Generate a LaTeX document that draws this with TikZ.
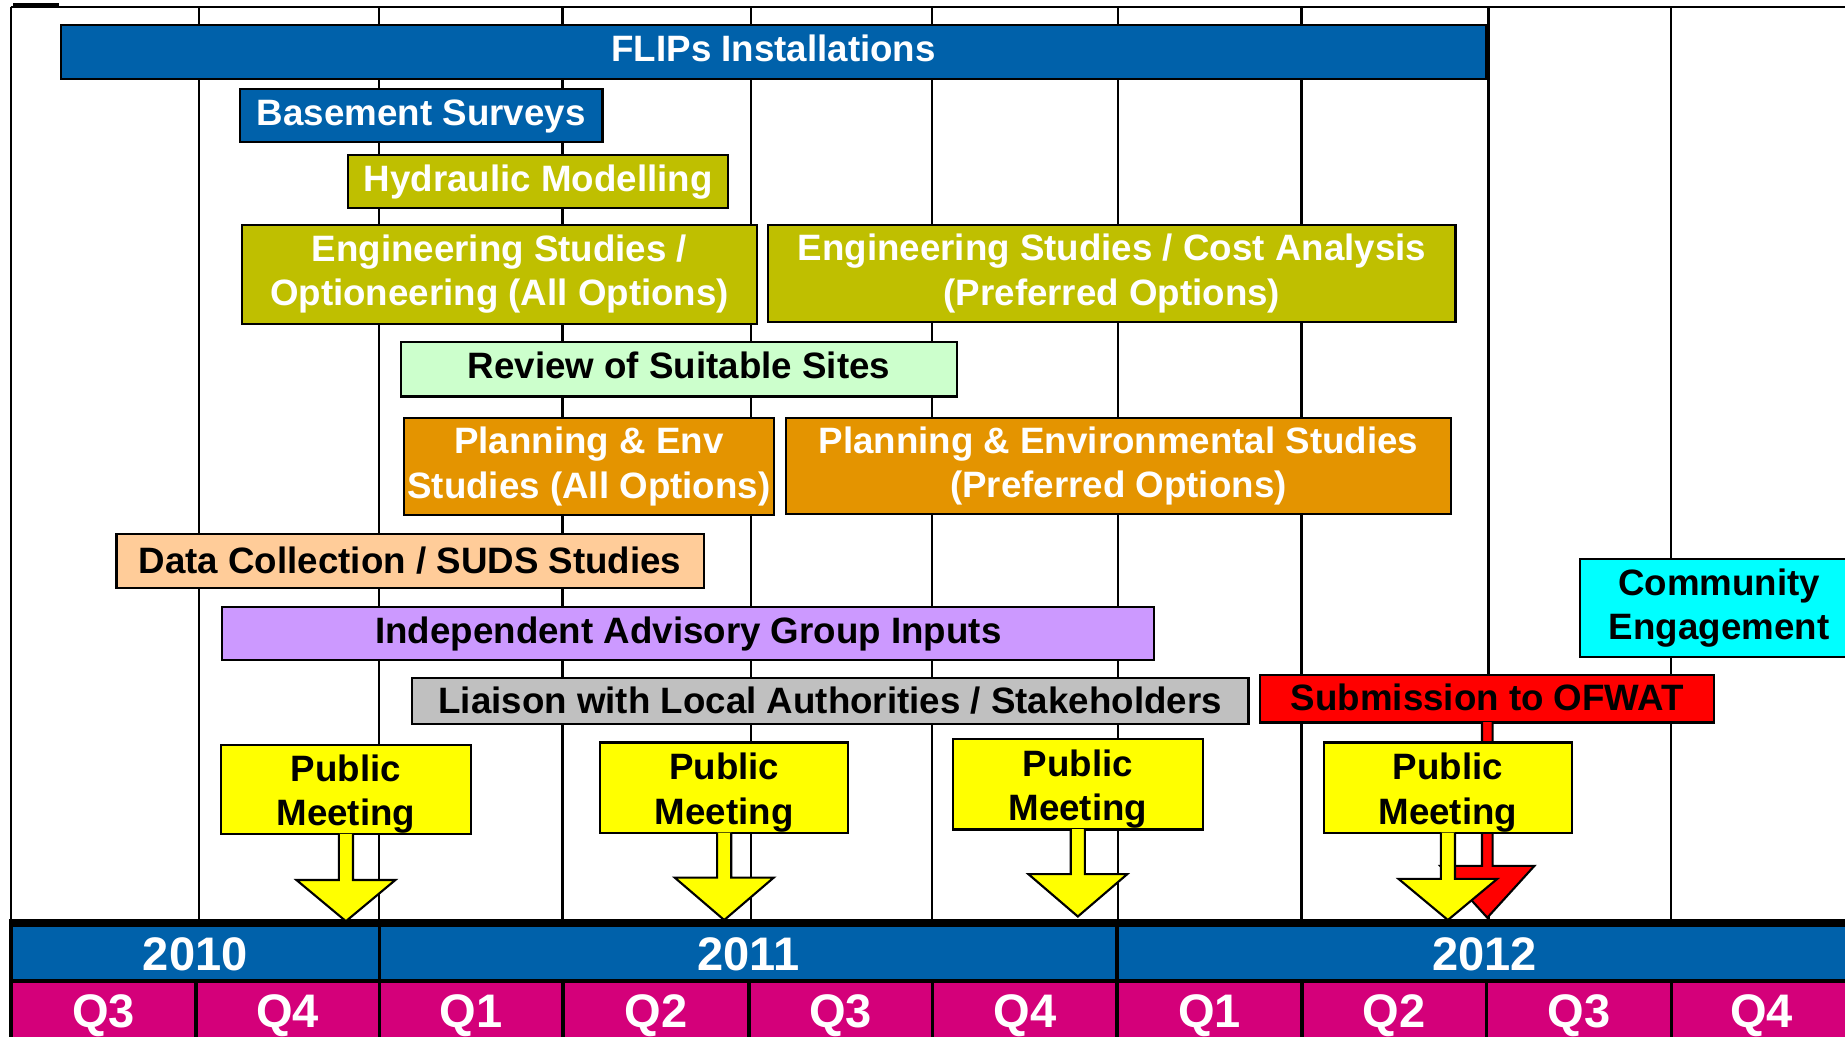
\documentclass[tikz,border=0pt]{standalone}
\usepackage{fontspec}
\setmainfont{Liberation Sans}
\usetikzlibrary{calc}

\definecolor{planblue}{RGB}{0,97,170}
\definecolor{olive}{RGB}{191,191,0}
\definecolor{mint}{RGB}{204,255,204}
\definecolor{amber}{RGB}{228,148,0}
\definecolor{peach}{RGB}{255,204,153}
\definecolor{lilac}{RGB}{204,153,255}
\definecolor{silver}{RGB}{192,192,192}
\definecolor{aqua}{RGB}{0,255,255}
\definecolor{signalred}{RGB}{255,0,0}
\definecolor{lemon}{RGB}{255,255,0}
\definecolor{berry}{RGB}{212,0,122}

\newcommand\taskfont{\fontsize{15.6}{18.8}\selectfont\bfseries}
\newcommand\axisfont{\fontsize{20}{24}\selectfont\bfseries}
% two-line label of the meeting boxes, with a little extra room on top
\newcommand\meetingtext{\rule{0pt}{15.4pt}Public\\Meeting}

\tikzset{
  task/.style={draw=black, line width=0.9pt, rectangle, inner sep=0pt,
    align=center, font=\taskfont},
  oneline/.style={text height=11.2pt, text depth=3.1pt},
  lowline/.style={text height=13.2pt, text depth=3.1pt},
  lighttext/.style={text=white},
  gridline/.style={line width=1pt, draw=black},
  axiscell/.style={rectangle, inner sep=0pt, font=\axisfont, text=white,
    text height=14.4pt, text depth=0pt},
}

% box from (x1,y1) to (x2,y2): name, x1, y1, x2, y2, style, text
\newcommand\ganttnode[7]{%
  \node[#6, minimum width={(#4-(#2))*0.5pt}, minimum height={(#5-(#3))*0.5pt}]
    (#1) at ({((#2)+(#4))/2},{((#3)+(#5))/2}) {#7};}

% block arrow hanging below a node: node, fill, shaft half-width,
% shaft length, head half-width, head length
\newcommand\dropcallout[6]{%
  \begin{scope}[shift={(#1.south)}]
    \path[fill=#2, draw=black, line width=0.9pt, line join=miter]
      (#3,-1.2) -- (#3,#4) -- (#5,#4) -- (0,{#4+#6}) -- (-#5,#4)
      -- (-#3,#4) -- (-#3,-1.2);
  \end{scope}}

\begin{document}
\begin{tikzpicture}[x=0.5pt, y={(0pt,-0.5pt)}]
\useasboundingbox (0,0) rectangle (1568,881);
\clip (0,0) rectangle (1568,881);
\fill[white] (0,0) rectangle (1568,881);

% frame and quarter grid
\fill[black] (11,2.5) rectangle (50,6);
\draw[gridline] (9,6) -- (1568,6);
\draw[gridline] (9.5,6) -- (9.5,881);
\foreach \gx in {169,322,478,638,792,950,1106,1265,1420}
  \draw[gridline] (\gx,6) -- (\gx,781);

% time axis
\fill[black] (8,781) rectangle (1572,882);
\ganttnode{y2010}{11}{788}{321}{832}{axiscell, fill=planblue}{2010}
\ganttnode{y2011}{324}{788}{948}{832}{axiscell, fill=planblue}{2011}
\ganttnode{y2012}{951}{788}{1572}{832}{axiscell, fill=planblue}{2012}
\ganttnode{q10c}{11}{835}{165}{882}{axiscell, fill=berry}{Q3}
\ganttnode{q10d}{168}{835}{321}{882}{axiscell, fill=berry}{Q4}
\ganttnode{q11a}{324}{835}{477}{882}{axiscell, fill=berry}{Q1}
\ganttnode{q11b}{480}{835}{635}{882}{axiscell, fill=berry}{Q2}
\ganttnode{q11c}{638}{835}{791}{882}{axiscell, fill=berry}{Q3}
\ganttnode{q11d}{794}{835}{948}{882}{axiscell, fill=berry}{Q4}
\ganttnode{q12a}{951}{835}{1105}{882}{axiscell, fill=berry}{Q1}
\ganttnode{q12b}{1108}{835}{1262}{882}{axiscell, fill=berry}{Q2}
\ganttnode{q12c}{1265}{835}{1419}{882}{axiscell, fill=berry}{Q3}
\ganttnode{q12d}{1422}{835}{1572}{882}{axiscell, fill=berry}{Q4}

% activities
\ganttnode{flips}{52}{21}{1263}{67}{task, oneline, lighttext, fill=planblue}{FLIPs Installations}
\ganttnode{basement}{204}{76}{512}{121}{task, oneline, lighttext, fill=planblue}{Basement Surveys}
\ganttnode{hydraulic}{296}{132}{619}{177}{task, oneline, lighttext, fill=olive}{Hydraulic Modelling}
\ganttnode{engall}{206}{191}{643}{275}{task, lighttext, fill=olive}{Engineering Studies /\\Optioneering (All Options)}
\ganttnode{engpref}{653}{191}{1237}{274}{task, lighttext, fill=olive}{Engineering Studies / Cost Analysis\\(Preferred Options)}
\ganttnode{review}{341}{291}{813}{337}{task, oneline, fill=mint}{Review of Suitable Sites}
\ganttnode{planall}{343}{355}{658}{438}{task, lighttext, fill=amber}{Planning \& Env\\Studies (All Options)}
\ganttnode{planpref}{668}{355}{1233}{437}{task, lighttext, fill=amber}{Planning \& Environmental Studies\\(Preferred Options)}
\ganttnode{datacol}{99}{454}{598}{500}{task, lowline, fill=peach}{Data Collection / SUDS Studies}
\ganttnode{advisory}{189}{516}{981}{561}{task, oneline, fill=lilac}{Independent Advisory Group Inputs}
\ganttnode{liaison}{350}{576}{1061}{615}{task, lowline, fill=silver, text height=14.2pt}{Liaison with Local Authorities / Stakeholders}
\ganttnode{community}{1343}{475}{1579}{558}{task, fill=aqua}{Community\\Engagement}
\ganttnode{ofwat}{1071}{574}{1457}{614}{task, lowline, fill=signalred}{Submission to OFWAT}
\dropcallout{ofwat}{signalred}{4.5}{121}{40}{44}

% public meetings
\ganttnode{pm1}{188}{633}{400}{709}{task, fill=lemon}{\meetingtext}
\dropcallout{pm1}{lemon}{6}{38}{42}{35}
\ganttnode{pm2}{510}{631}{721}{708}{task, fill=lemon}{\meetingtext}
\dropcallout{pm2}{lemon}{6}{37}{42}{36}
\ganttnode{pm3}{810}{628}{1022}{705}{task, fill=lemon}{\meetingtext}
\dropcallout{pm3}{lemon}{6}{37}{42}{36}
\ganttnode{pm4}{1125}{631}{1336}{708}{task, fill=lemon}{\meetingtext}
\dropcallout{pm4}{lemon}{6}{38}{42}{35}
\end{tikzpicture}
\end{document}
